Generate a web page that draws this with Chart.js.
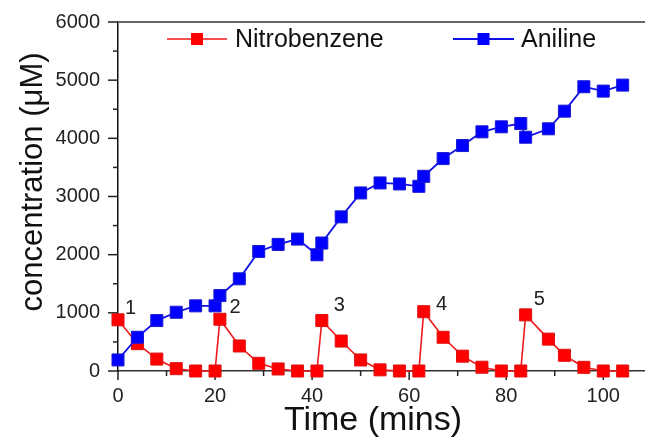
<!DOCTYPE html>
<html>
<head>
<meta charset="utf-8">
<script src="https://cdn.jsdelivr.net/npm/chart.js@4"></script>
<style>
  html, body { margin: 0; padding: 0; background: #fff; }
  canvas { display: block; }
</style>
</head>
<body>
<canvas id="chart" width="645" height="441"></canvas>
<script>
'use strict';

// sampling times (mins), shared by both series
const times = [0, 4, 8, 12, 16, 20, 21, 25, 29, 33, 37, 41, 42, 46, 50, 54, 58, 62, 63, 67, 71, 75, 79, 83, 84, 88.7, 92, 96, 100, 104];
const nitrobenzene = [880, 470, 205, 40, 0, 0, 890, 430, 132, 35, 0, 0, 867, 515, 190, 20, 0, 0, 1020, 580, 255, 65, 0, 0, 965, 548, 270, 63, 0, 0];
const aniline = [190, 580, 867, 1010, 1120, 1120, 1297, 1585, 2055, 2176, 2268, 1998, 2200, 2650, 3061, 3233, 3216, 3175, 3347, 3652, 3876, 4112, 4198, 4255, 4019, 4164, 4467, 4887, 4812, 4915];

// cycle numbers written next to each nitrobenzene spike (data coords)
const cycleLabels = ['1', '2', '3', '4', '5'];
const cycleTimes = [2.6, 24.1, 45.6, 66.7, 86.8];
const cycleValues = [1080, 1097, 1120, 1137, 1223];

const xTicks = [0, 20, 40, 60, 80, 100];
const xMinor = [10, 30, 50, 70, 90];
const yMinor = [500, 1500, 2500, 3500, 4500, 5500];

const FONT = '"Liberation Sans", Arial, sans-serif';

const toPoints = (ys) => times.map((t, i) => ({ x: t, y: ys[i] }));

// tick marks, top frame line, legend, cycle labels and axis titles
const decor = {
  id: 'decor',
  beforeDatasetsDraw(chart) {
    const { ctx, chartArea: a, scales: { x, y } } = chart;
    ctx.save();
    // top frame
    ctx.strokeStyle = '#666';
    ctx.lineWidth = 2;
    ctx.beginPath(); ctx.moveTo(a.left, a.top); ctx.lineTo(a.right, a.top); ctx.stroke();

    ctx.strokeStyle = '#222';
    ctx.lineWidth = 1.5;
    const yAxis = a.left;
    y.ticks.forEach((t) => {
      const py = y.getPixelForValue(t.value);
      ctx.beginPath(); ctx.moveTo(yAxis - 10, py); ctx.lineTo(yAxis, py); ctx.stroke();
    });
    yMinor.forEach((v) => {
      const py = y.getPixelForValue(v);
      ctx.beginPath(); ctx.moveTo(yAxis - 5, py); ctx.lineTo(yAxis, py); ctx.stroke();
    });
    const xAxis = a.bottom;
    xTicks.forEach((v) => {
      const px = x.getPixelForValue(v);
      ctx.beginPath(); ctx.moveTo(px, xAxis); ctx.lineTo(px, xAxis + 9); ctx.stroke();
    });
    xMinor.forEach((v) => {
      const px = x.getPixelForValue(v);
      ctx.beginPath(); ctx.moveTo(px, xAxis); ctx.lineTo(px, xAxis + 5); ctx.stroke();
    });
    ctx.restore();
  },
  afterDraw(chart) {
    const { ctx, scales: { x, y } } = chart;
    ctx.save();

    // cycle numbers
    ctx.fillStyle = '#222';
    ctx.font = '20px ' + FONT;
    ctx.textAlign = 'center';
    ctx.textBaseline = 'middle';
    cycleLabels.forEach((s, i) => {
      ctx.fillText(s, x.getPixelForValue(cycleTimes[i]), y.getPixelForValue(cycleValues[i]));
    });

    // legend inside the plot
    const items = [
      { ds: chart.data.datasets[1], x0: 167, x1: 227, tx: 235 },
      { ds: chart.data.datasets[0], x0: 453, x1: 514, tx: 521 },
    ];
    const ly = 39;
    items.forEach((it) => {
      ctx.strokeStyle = it.ds.borderColor;
      ctx.lineWidth = it.ds.borderWidth;
      ctx.beginPath(); ctx.moveTo(it.x0, ly); ctx.lineTo(it.x1, ly); ctx.stroke();
      const cx = (it.x0 + it.x1) / 2;
      ctx.fillStyle = it.ds.pointBackgroundColor;
      ctx.fillRect(cx - 6, ly - 6, 12, 12);
      ctx.fillStyle = '#111';
      ctx.font = '25px ' + FONT;
      ctx.textAlign = 'left';
      ctx.fillText(it.ds.label, it.tx, ly + 1);
    });

    // x axis title
    ctx.fillStyle = '#111';
    ctx.font = '34px ' + FONT;
    ctx.textAlign = 'center';
    ctx.fillText('Time (mins)', 373, 421);

    // y axis title
    ctx.translate(33, 182);
    ctx.rotate(-Math.PI / 2);
    ctx.font = '31px ' + FONT;
    ctx.fillText('concentration (\u03bcM)', 0, 0);
    ctx.restore();
  },
};

new Chart(document.getElementById('chart'), {
  type: 'line',
  data: {
    datasets: [
      {
        label: 'Aniline',
        data: toPoints(aniline),
        borderColor: '#1010e8',
        backgroundColor: '#0000ff',
        pointBackgroundColor: '#0000ff',
        pointBorderColor: '#1a1ad0',
        borderWidth: 1.8,
        pointStyle: 'rect',
        pointRadius: 8.5,
        pointBorderWidth: 1,
        clip: false,
      },
      {
        label: 'Nitrobenzene',
        data: toPoints(nitrobenzene),
        borderColor: '#f01818',
        backgroundColor: '#ff0000',
        pointBackgroundColor: '#ff0000',
        pointBorderColor: '#e01010',
        borderWidth: 1.6,
        pointStyle: 'rect',
        pointRadius: 8.5,
        pointBorderWidth: 1,
        clip: false,
      },
    ],
  },
  options: {
    responsive: false,
    animation: false,
    devicePixelRatio: 1,
    layout: { autoPadding: false, padding: { top: 22, left: 0, right: 0, bottom: 0 } },
    plugins: { legend: { display: false }, tooltip: { enabled: false } },
    scales: {
      x: {
        type: 'linear',
        min: 0,
        max: 108.6,
        afterBuildTicks: (s) => { s.ticks = xTicks.map((v) => ({ value: v })); },
        afterFit: (s) => { s.height = 70; s.paddingLeft = 0; s.paddingRight = 0; },
        grid: { display: false, drawTicks: false },
        border: { display: true, color: '#333', width: 1.5 },
        ticks: { color: '#222', font: { family: FONT, size: 20 }, padding: 13, maxRotation: 0 },
      },
      y: {
        min: 0,
        max: 6000,
        afterFit: (s) => { s.width = 118; s.paddingTop = 0; s.paddingBottom = 0; },
        grid: { display: false, drawTicks: false },
        border: { display: true, color: '#111', width: 1.5 },
        ticks: {
          stepSize: 1000,
          color: '#222',
          font: { family: FONT, size: 20 },
          padding: 18,
          callback: (v) => String(v),
        },
      },
    },
  },
  plugins: [decor],
});
</script>
</body>
</html>
